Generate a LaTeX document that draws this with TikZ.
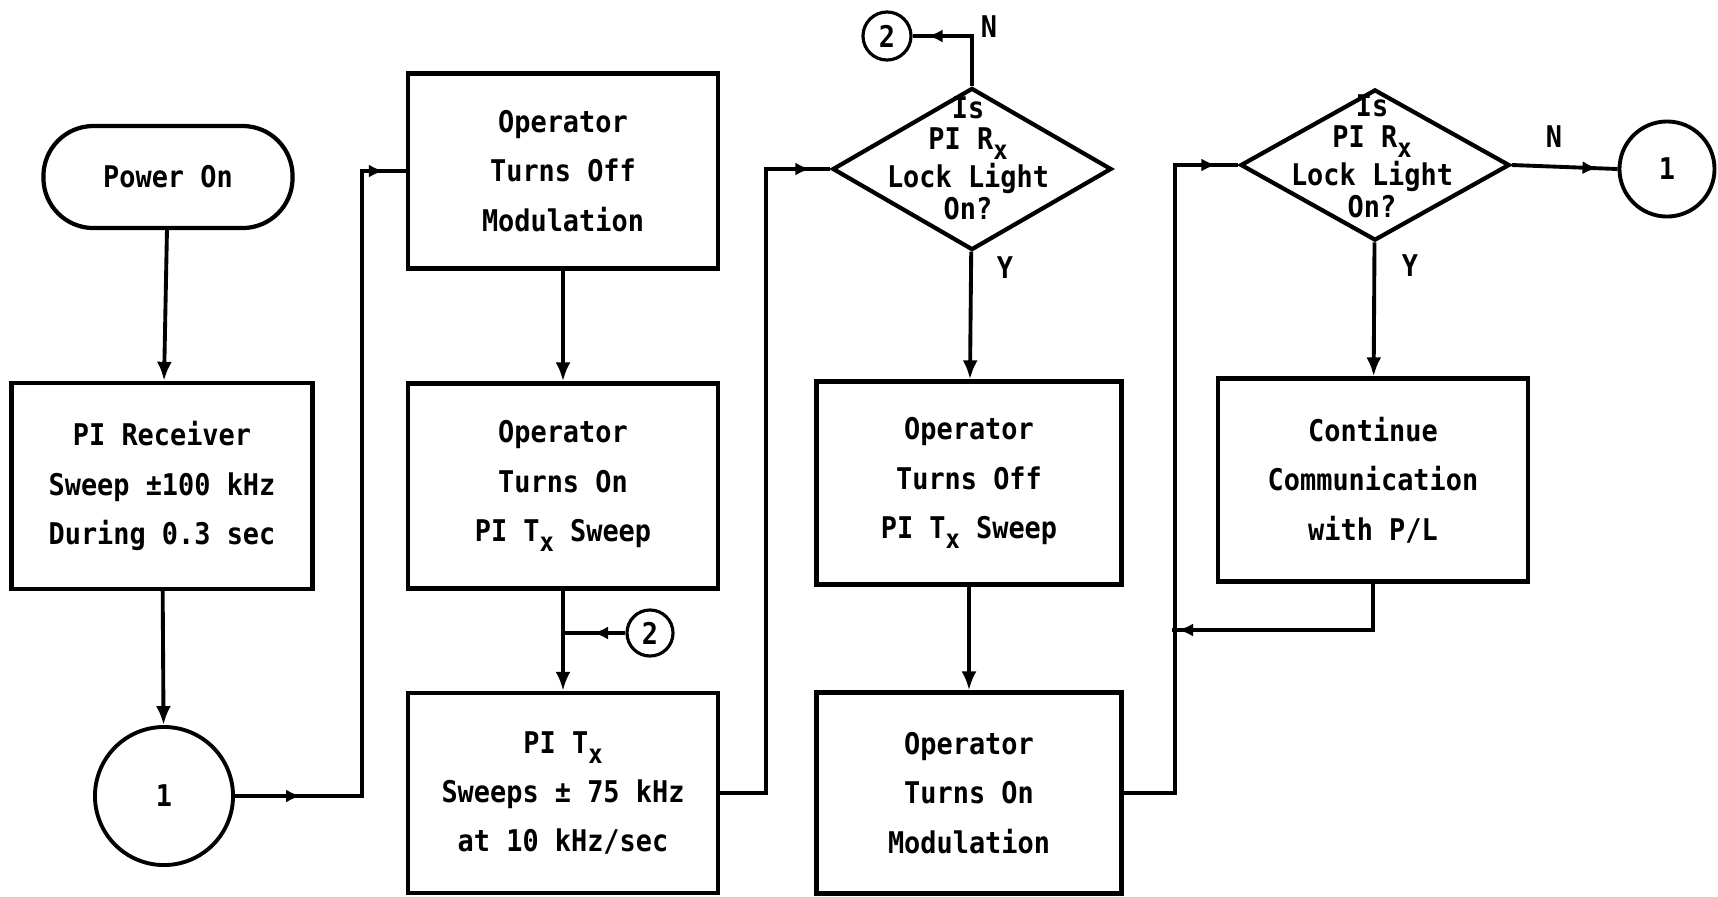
\documentclass[tikz,border=0pt]{standalone}
\usepackage{fontspec}
\setmonofont[FakeStretch=0.9]{DejaVu Sans Mono}
\usetikzlibrary{arrows.meta,shapes.geometric,decorations.markings}
\newcommand{\lowx}{\raisebox{-0.6ex}{\fontsize{7.5}{8}\selectfont x}}

\begin{document}
\begin{tikzpicture}[x=0.01cm,y=-0.01cm,
  line/.style={line width=1.1pt},
  flow/.style={line,-{Latex[length=1.9mm,width=1.5mm]}},
  txt/.style={font=\ttfamily\bfseries\fontsize{8.5}{14}\selectfont,align=center},
  box/.style={txt,draw,line width=1.2pt,minimum width=3.1cm,minimum height=2.02cm},
  conn/.style={txt,draw,circle,line width=1.1pt,inner sep=0pt},
  decide/.style={draw,diamond,line width=1.2pt,inner sep=0pt},
  qtext/.style={txt,font=\ttfamily\bfseries\fontsize{8.5}{9}\selectfont,inner sep=0pt},
  midarr/.style={postaction={decorate},decoration={markings,
    mark=at position #1 with {\arrow{Latex[length=1.5mm,width=1.3mm]}}}},
  midarrs/.style 2 args={postaction={decorate},decoration={markings,
    mark=at position #1 with {\arrow{Latex[length=1.5mm,width=1.3mm]}},
    mark=at position #2 with {\arrow{Latex[length=1.5mm,width=1.3mm]}}}}]
  \useasboundingbox (0,0) rectangle (1718,896);
  % column 1
  \node[txt,draw,rounded corners=0.5cm,line width=1.2pt,minimum width=2.49cm,minimum height=1.02cm]
    (power) at (168,177) {Power On};
  \node[box,minimum width=3.01cm,minimum height=2.06cm] (recv) at (162,486)
    {PI Receiver\\Sweep ±100 kHz\\During 0.3 sec};
  \node[conn,minimum size=1.38cm] (c1a) at (164,796) {1};
  % column 2
  \node[box,minimum height=1.95cm] (modoff) at (563,171)
    {Operator\\Turns Off\\Modulation};
  \node[box,minimum height=2.05cm] (txon) at (563,486)
    {Operator\\Turns On\\PI T\lowx\ Sweep};
  \node[box,minimum height=2.0cm] (txsweep) at (563,793)
    {PI T\lowx\\Sweeps ± 75 kHz\\at 10 kHz/sec};
  \node[conn,minimum size=0.46cm,line width=0.9pt] (c2a) at (650,633) {2};
  \coordinate (tap) at (563,633);
  % column 3
  \node[decide,minimum width=2.79cm,minimum height=1.62cm] (dia1) at (972,169) {};
  \node[qtext] (q1) at (968,158) {Is\\PI R\lowx\\Lock Light\\On?};
  \node[conn,minimum size=0.48cm,line width=0.9pt] (c2b) at (887,36) {2};
  \node[box,minimum width=3.05cm,minimum height=2.03cm] (txoff) at (969,483)
    {Operator\\Turns Off\\PI T\lowx\ Sweep};
  \node[box,minimum width=3.05cm,minimum height=2.01cm] (modon) at (969,793)
    {Operator\\Turns On\\Modulation};
  \node[txt] (n1) at (989,27) {N};
  \node[txt] (y1) at (1005,268) {Y};
  % column 4
  \node[decide,minimum width=2.69cm,minimum height=1.51cm] (dia2) at (1375,165) {};
  \node[qtext] (q2) at (1372,156) {Is\\PI R\lowx\\Lock Light\\On?};
  \node[box,minimum height=2.03cm] (cont) at (1373,480)
    {Continue\\Communication\\with P/L};
  \node[conn,minimum size=0.95cm] (c1b) at (1667,169) {1};
  \node[txt] (n2) at (1554,137) {N};
  \node[txt] (y2) at (1410,266) {Y};
  \coordinate (joint) at (1172,630);
  % connectors
  \draw[flow] (power) -- (recv);
  \draw[flow] (recv) -- (c1a);
  \draw[line,midarrs={0.66cm}{-0.22cm}] (c1a.east) -- ++(127,0) |- (modoff.west);
  \draw[flow] (modoff) -- (txon);
  \draw[flow] (txon) -- (txsweep);
  \draw[line,midarr=-0.3cm] (c2a.west) -- (tap);
  \draw[line,midarr=-0.2cm] (txsweep.east) -- ++(46,0) |- (dia1.west);
  \draw[line,midarr=-0.15cm] (dia1.north) |- (c2b.east);
  \draw[flow] (dia1) -- (txoff);
  \draw[flow] (txoff) -- (modon);
  \draw[line,midarr=-0.22cm] (modon.east) -- ++(51,0) |- (dia2.west);
  \draw[line,midarr=-0.06cm] (cont.south) |- (joint);
  \draw[flow] (dia2) -- (cont);
  \draw[line,midarr=-0.2cm] (dia2.east) -- (c1b.west);
\end{tikzpicture}
\end{document}
